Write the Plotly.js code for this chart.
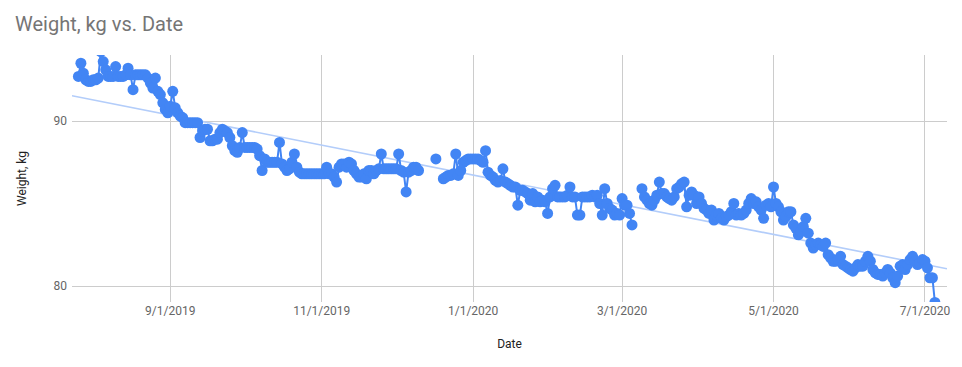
<!DOCTYPE html>
<html>
<head>
<meta charset="utf-8">
<script src="https://cdn.plot.ly/plotly-3.0.1.min.js"></script>
<style>html,body{margin:0;padding:0;background:#fff;}#chart{width:962px;height:367px;}</style>
</head>
<body>
<div id="chart"></div>
<script>
// Daily weigh-ins (null = no measurement)
const dates = [
'2019-07-26','2019-07-27','2019-07-28','2019-07-29','2019-07-30','2019-07-31',
'2019-08-01','2019-08-02','2019-08-03','2019-08-04','2019-08-05','2019-08-06','2019-08-07','2019-08-08','2019-08-09','2019-08-10',
'2019-08-11','2019-08-12','2019-08-13','2019-08-14','2019-08-15','2019-08-16','2019-08-17','2019-08-18','2019-08-19','2019-08-20',
'2019-08-21','2019-08-22','2019-08-23','2019-08-24','2019-08-25','2019-08-26','2019-08-27','2019-08-28','2019-08-29','2019-08-30','2019-08-31',
'2019-09-01','2019-09-02','2019-09-03','2019-09-04','2019-09-05','2019-09-06','2019-09-07','2019-09-08','2019-09-09','2019-09-10',
'2019-09-11','2019-09-12','2019-09-13','2019-09-14','2019-09-15','2019-09-16','2019-09-17','2019-09-18','2019-09-19','2019-09-20',
'2019-09-21','2019-09-22','2019-09-23','2019-09-24','2019-09-25','2019-09-26','2019-09-27','2019-09-28','2019-09-29','2019-09-30',
'2019-10-01','2019-10-02','2019-10-03','2019-10-04','2019-10-05','2019-10-06','2019-10-07','2019-10-08','2019-10-09','2019-10-10',
'2019-10-11','2019-10-12','2019-10-13','2019-10-14','2019-10-15','2019-10-16','2019-10-17','2019-10-18','2019-10-19','2019-10-20',
'2019-10-21','2019-10-22','2019-10-23','2019-10-24','2019-10-25','2019-10-26','2019-10-27','2019-10-28','2019-10-29','2019-10-30','2019-10-31',
'2019-11-01','2019-11-02','2019-11-03','2019-11-04','2019-11-05','2019-11-06','2019-11-07','2019-11-08','2019-11-09','2019-11-10',
'2019-11-11','2019-11-12','2019-11-13','2019-11-14','2019-11-15','2019-11-16','2019-11-17','2019-11-18','2019-11-19','2019-11-20',
'2019-11-21','2019-11-22','2019-11-23','2019-11-24','2019-11-25','2019-11-26','2019-11-27','2019-11-28','2019-11-29','2019-11-30',
'2019-12-01','2019-12-02','2019-12-03','2019-12-04','2019-12-05','2019-12-06','2019-12-07','2019-12-08','2019-12-09','2019-12-10',
'2019-12-11','2019-12-17','2019-12-18','2019-12-20','2019-12-21','2019-12-22','2019-12-23','2019-12-24','2019-12-25','2019-12-26',
'2019-12-27','2019-12-28','2019-12-29','2019-12-30','2019-12-31',
'2020-01-01','2020-01-02','2020-01-03','2020-01-04','2020-01-05','2020-01-06','2020-01-07','2020-01-08','2020-01-09','2020-01-10',
'2020-01-11','2020-01-12','2020-01-13','2020-01-14','2020-01-15','2020-01-16','2020-01-17','2020-01-18','2020-01-19','2020-01-20',
'2020-01-21','2020-01-22','2020-01-23','2020-01-24','2020-01-25','2020-01-26','2020-01-27','2020-01-28','2020-01-29','2020-01-30','2020-01-31',
'2020-02-01','2020-02-02','2020-02-03','2020-02-04','2020-02-05','2020-02-06','2020-02-07','2020-02-08','2020-02-09','2020-02-10',
'2020-02-11','2020-02-12','2020-02-13','2020-02-14','2020-02-15','2020-02-16','2020-02-17','2020-02-18','2020-02-19','2020-02-20',
'2020-02-21','2020-02-22','2020-02-23','2020-02-24','2020-02-25','2020-02-26','2020-02-27','2020-02-28','2020-02-29',
'2020-03-01','2020-03-02','2020-03-03','2020-03-04','2020-03-05','2020-03-06','2020-03-09','2020-03-10',
'2020-03-11','2020-03-12','2020-03-13','2020-03-14','2020-03-15','2020-03-16','2020-03-17','2020-03-18','2020-03-19','2020-03-20',
'2020-03-21','2020-03-22','2020-03-23','2020-03-24','2020-03-25','2020-03-26','2020-03-27','2020-03-28','2020-03-29','2020-03-30','2020-03-31',
'2020-04-01','2020-04-02','2020-04-03','2020-04-04','2020-04-05','2020-04-06','2020-04-07','2020-04-08','2020-04-09','2020-04-10',
'2020-04-11','2020-04-12','2020-04-13','2020-04-14','2020-04-15','2020-04-16','2020-04-17','2020-04-18','2020-04-19','2020-04-20',
'2020-04-21','2020-04-22','2020-04-23','2020-04-24','2020-04-25','2020-04-26','2020-04-27','2020-04-28','2020-04-29','2020-04-30',
'2020-05-01','2020-05-02','2020-05-03','2020-05-04','2020-05-05','2020-05-06','2020-05-07','2020-05-08','2020-05-09','2020-05-10',
'2020-05-11','2020-05-12','2020-05-13','2020-05-14','2020-05-15','2020-05-16','2020-05-17','2020-05-18','2020-05-19','2020-05-20',
'2020-05-21','2020-05-22','2020-05-23','2020-05-24','2020-05-25','2020-05-26','2020-05-27','2020-05-28','2020-05-29','2020-05-30','2020-05-31',
'2020-06-01','2020-06-02','2020-06-03','2020-06-04','2020-06-05','2020-06-06','2020-06-07','2020-06-08','2020-06-09','2020-06-10',
'2020-06-11','2020-06-12','2020-06-13','2020-06-14','2020-06-15','2020-06-16','2020-06-17','2020-06-18','2020-06-19','2020-06-20',
'2020-06-21','2020-06-22','2020-06-23','2020-06-24','2020-06-25','2020-06-26','2020-06-27','2020-06-28','2020-06-29','2020-06-30',
'2020-07-01','2020-07-02','2020-07-03','2020-07-04','2020-07-05'
];
const weights = [
92.7,93.5,92.9,92.5,92.4,92.4,
92.5,92.5,92.6,94.2,93.6,93.1,92.7,92.7,92.7,93.3,
92.7,92.7,92.7,92.8,93.2,92.8,91.9,92.8,92.8,92.8,
92.8,92.8,92.6,92.3,92.0,92.6,91.8,91.6,91.1,90.7,90.5,
90.9,91.8,90.8,90.5,90.3,90.2,89.9,89.9,89.9,89.9,
89.9,89.9,89.0,89.4,89.5,89.5,88.8,88.8,88.9,88.9,
89.3,89.5,89.4,89.3,89.0,88.5,88.2,88.1,88.4,89.3,
88.4,88.4,88.4,88.4,88.4,88.3,87.9,87.0,87.7,87.5,
87.5,87.5,87.5,87.5,88.7,87.4,87.2,87.0,87.1,87.5,
88.0,87.2,86.9,86.8,86.8,86.8,86.8,86.8,86.8,86.8,86.8,
86.8,86.8,87.2,86.8,86.8,86.6,86.3,87.2,87.4,87.4,
87.2,87.5,87.4,87.0,86.8,86.6,86.6,86.8,86.5,87.0,
87.0,86.8,87.0,87.1,88.0,87.1,87.1,87.1,87.1,87.1,
87.1,88.0,87.0,86.9,85.7,86.9,87.0,87.2,87.2,87.0,
null,87.7,null,86.5,86.6,86.7,86.7,86.8,88.0,86.7,
87.0,87.5,87.6,87.7,87.7,
87.7,87.7,87.7,87.6,87.5,88.2,86.9,86.7,86.6,86.4,
86.3,86.4,87.1,86.3,86.2,86.1,86.0,86.0,84.9,85.8,
85.8,85.7,85.6,85.2,85.6,85.1,85.4,85.1,85.2,85.1,84.4,
85.4,85.9,86.1,85.4,85.4,85.4,85.4,85.5,86.0,85.4,
85.4,84.3,84.3,85.4,85.4,85.4,85.4,85.5,85.4,85.5,
85.0,84.3,85.9,85.0,84.7,84.6,84.3,84.4,84.3,
85.3,84.9,84.9,84.4,83.7,null,85.9,85.4,
85.2,85.0,84.9,85.2,85.5,86.3,85.6,85.6,85.4,85.3,
85.2,85.4,85.9,86.0,86.2,86.3,84.8,85.5,85.7,85.5,85.0,
85.4,85.0,84.7,84.6,84.4,84.6,84.0,84.3,84.4,84.1,
84.0,84.2,84.3,84.5,85.0,84.3,84.4,84.3,84.4,84.6,
85.0,85.3,85.0,85.1,84.8,84.6,84.1,84.9,85.0,84.8,
86.0,85.0,84.8,84.5,84.0,84.2,84.5,84.5,83.7,83.5,
83.1,83.3,83.6,84.1,83.2,82.6,82.3,82.5,82.6,82.5,
82.4,82.6,81.9,81.7,81.5,81.5,81.6,81.8,81.3,81.2,81.1,
81.0,80.9,81.1,81.3,81.2,81.2,81.5,81.8,81.5,81.0,
80.8,80.7,80.7,80.6,80.8,81.0,80.8,80.5,80.2,80.6,
81.2,81.3,81.0,81.3,81.6,81.8,81.5,81.3,81.4,81.6,
81.5,81.1,80.5,80.5,79.0
];
const xTickVals = ['2019-09-01','2019-11-01','2020-01-01','2020-03-01','2020-05-01','2020-07-01'];
const xTickText = ['9/1/2019','11/1/2019','1/1/2020','3/1/2020','5/1/2020','7/1/2020'];
const yTickVals = [80, 90];
const xRange = ['2019-07-23 10:00','2020-07-09 21:00'];
const yRange = [79.03, 94.0];

// Linear trendline (least squares over the measured points)
const DAY = 86400000;
const t0 = Date.parse(dates[0]);
let n=0,sx=0,sy=0,sxx=0,sxy=0;
dates.forEach((d,i)=>{const w=weights[i]; if(w==null) return; const x=(Date.parse(d)-t0)/DAY; n++; sx+=x; sy+=w; sxx+=x*x; sxy+=x*w;});
const slope=(n*sxy-sx*sy)/(n*sxx-sx*sx);
const icpt=(sy-slope*sx)/n;
const trendX = xRange.map(s=>new Date(Date.parse(s.replace(' ','T')+':00Z')).toISOString());
const trendY = trendX.map(s=>icpt+slope*((Date.parse(s)-t0)/DAY));

const traces = [
  {x: trendX, y: trendY, type:'scatter', mode:'lines', line:{color:'#b3cdfa', width:1.6}, hoverinfo:'skip'},
  {x: dates, y: weights, type:'scatter', mode:'lines+markers', connectgaps:false,
   line:{color:'#4285f4', width:2}, marker:{color:'#4285f4', size:11}}
];
const layout = {
  width:962, height:367,
  margin:{l:72, r:15, t:55, b:65},
  paper_bgcolor:'#ffffff', plot_bgcolor:'#ffffff',
  font:{family:'Roboto, Arial, sans-serif', color:'#222'},
  showlegend:false,
  title:{text:'Weight, kg vs. Date', xref:'container', x:15/962, xanchor:'left', yref:'container', y:1-24/367, yanchor:'middle',
         font:{size:20, color:'#757575'}},
  xaxis:{type:'date', range:xRange, tickvals:xTickVals, ticktext:xTickText, showgrid:true, gridcolor:'#cccccc', gridwidth:1,
         zeroline:false, showline:false, ticks:'', tickfont:{size:12, color:'#666666'},
         title:{text:'Date', font:{size:12, color:'#222222'}, standoff:22}},
  yaxis:{range:yRange, tickvals:yTickVals, showgrid:true, gridcolor:'#cccccc', gridwidth:1, zeroline:false, showline:false,
         ticks:'', tickfont:{size:12, color:'#666666'}, ticklabelstandoff:4,
         title:{text:'Weight, kg', font:{size:12, color:'#222222'}, standoff:24}}
};
Plotly.newPlot('chart', traces, layout, {displayModeBar:false, staticPlot:true});
</script>
</body>
</html>
